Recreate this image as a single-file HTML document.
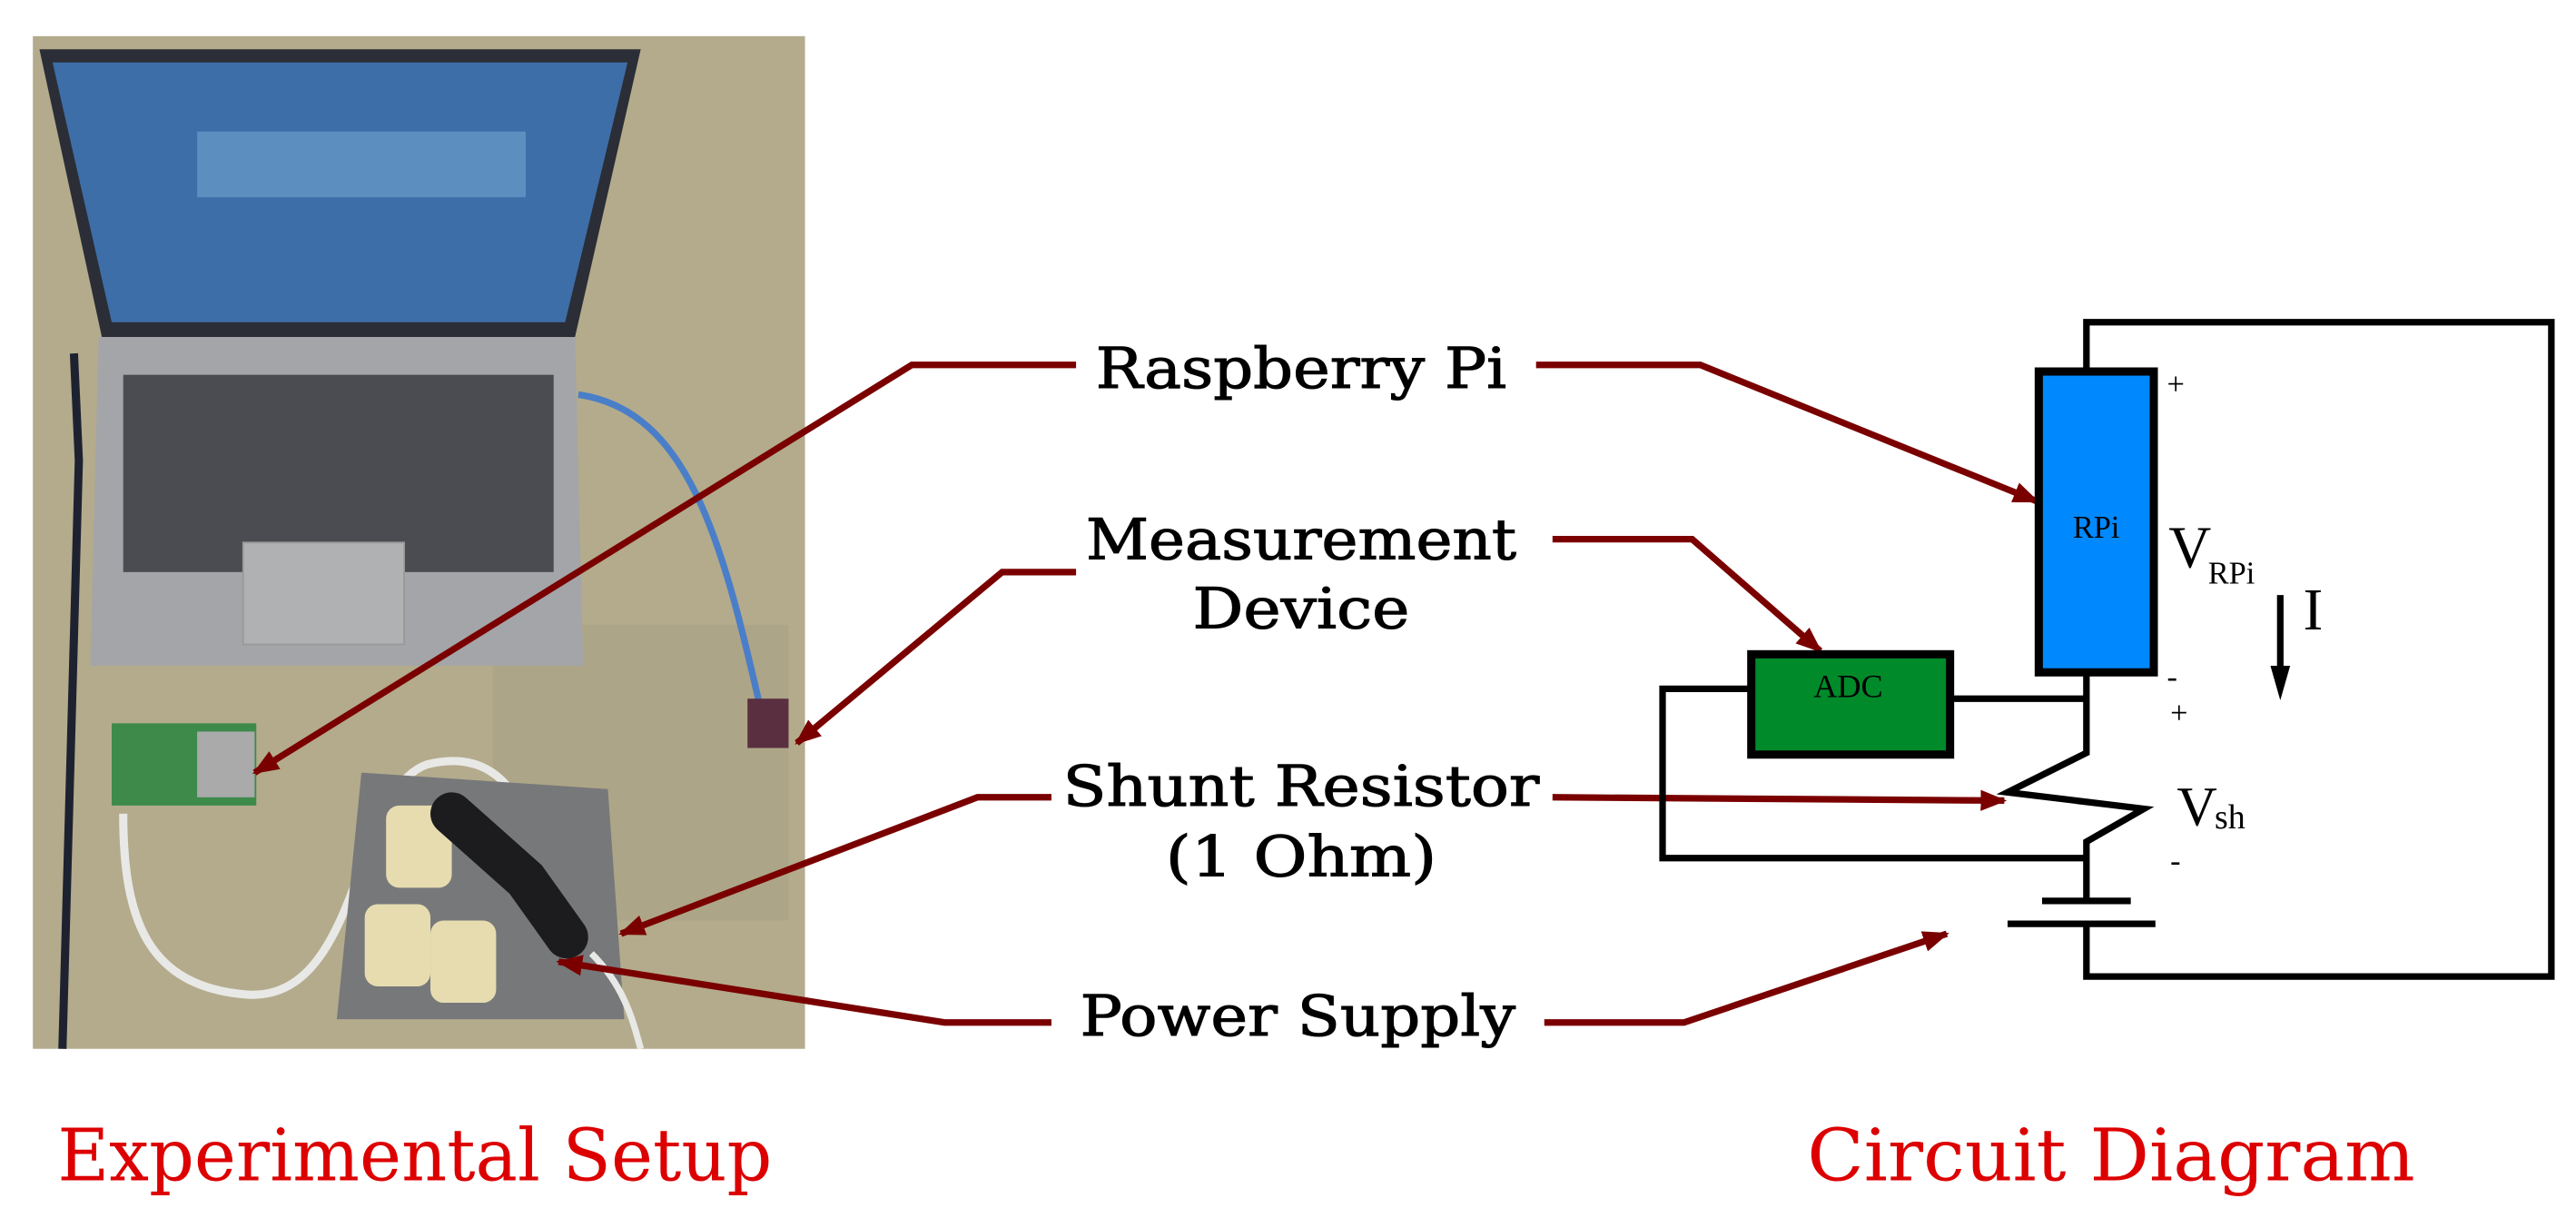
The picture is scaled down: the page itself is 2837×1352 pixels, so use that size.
<!DOCTYPE html>
<html><head><style>html,body{margin:0;padding:0;background:#fff}svg{display:block}</style></head>
<body>
<svg width="2837" height="1352" viewBox="0 0 1568 747" preserveAspectRatio="none" xmlns="http://www.w3.org/2000/svg">
<defs>
<marker id="a" viewBox="0 0 10 10" refX="9" refY="5" markerWidth="4" markerHeight="4" orient="auto" markerUnits="strokeWidth"><path d="M0,1 L10,5 L0,9 z" fill="#7a0000"/></marker>
</defs>
<rect width="1568" height="747" fill="#fff"/>
<!-- photo -->
<rect x="20" y="22" width="470" height="616" fill="#b3ab8c"/>
<rect x="300" y="380" width="180" height="180" fill="#a9a283" opacity="0.6"/>
<path d="M45,215 L48,280 L38,638" stroke="#1e2230" stroke-width="5" fill="none"/>
<polygon points="24,30 390,30 350,205 62,205" fill="#2b2e36"/>
<polygon points="32,38 382,38 344,196 68,196" fill="#3d6ea8"/>
<rect x="120" y="80" width="200" height="40" fill="#5c8ec0"/>
<polygon points="60,205 350,205 355,405 55,405" fill="#a4a5a8"/>
<rect x="75" y="228" width="262" height="120" fill="#4a4c52"/>
<rect x="148" y="330" width="98" height="62" fill="#b0b1b3" stroke="#999" />
<path d="M352,240 C420,250 440,330 465,440" stroke="#4a7ec8" stroke-width="4" fill="none"/>
<rect x="455" y="425" width="25" height="30" fill="#5a3040"/>
<rect x="68" y="440" width="88" height="50" fill="#3d8a4a"/>
<rect x="120" y="445" width="35" height="40" fill="#aaa"/>
<path d="M75,495 C75,560 90,600 150,605 C220,610 215,480 260,465 C320,450 330,520 330,560" stroke="#e8e8e6" stroke-width="5" fill="none"/>
<polygon points="220,470 370,480 380,620 205,620" fill="#77787a"/>
<rect x="235" y="490" width="40" height="50" rx="8" fill="#e6dcb0"/>
<rect x="222" y="550" width="40" height="50" rx="8" fill="#e6dcb0"/>
<rect x="262" y="560" width="40" height="50" rx="8" fill="#e6dcb0"/>
<path d="M275,495 L320,535 L345,570" stroke="#1c1c1e" stroke-width="26" fill="none" stroke-linecap="round"/>
<path d="M360,580 C380,600 385,620 390,638" stroke="#e8e8e6" stroke-width="4" fill="none"/>
<!-- connectors -->
<g stroke="#7a0000" stroke-width="4" fill="none">
<polyline points="655,222 555,222 155,470" marker-end="url(#a)"/>
<polyline points="935,222 1035,222 1240,305" marker-end="url(#a)"/>
<polyline points="655,348 610,348 485,452" marker-end="url(#a)"/>
<polyline points="945,328 1030,328 1108,396" marker-end="url(#a)"/>
<polyline points="640,485 595,485 378,568" marker-end="url(#a)"/>
<polyline points="945,485 1220,487" marker-end="url(#a)"/>
<polyline points="640,622 575,622 340,585" marker-end="url(#a)"/>
<polyline points="940,622 1025,622 1185,568" marker-end="url(#a)"/>
</g>
<!-- labels -->
<g font-family="DejaVu Serif, serif" font-size="34" fill="#000" text-anchor="middle" stroke="#000" stroke-width="0.6">
<text x="792" y="236" textLength="250" lengthAdjust="spacingAndGlyphs">Raspberry Pi</text>
<text x="792" y="340" textLength="262" lengthAdjust="spacingAndGlyphs">Measurement</text>
<text x="792" y="382" textLength="132" lengthAdjust="spacingAndGlyphs">Device</text>
<text x="792" y="490" textLength="290" lengthAdjust="spacingAndGlyphs">Shunt Resistor</text>
<text x="792" y="533" textLength="165" lengthAdjust="spacingAndGlyphs">(1 Ohm)</text>
<text x="790" y="630" textLength="265" lengthAdjust="spacingAndGlyphs">Power Supply</text>
</g>
<g font-family="DejaVu Serif, serif" font-size="44" fill="#dd0000">
<text x="35" y="718" textLength="435" lengthAdjust="spacingAndGlyphs">Experimental Setup</text>
<text x="1100" y="718" textLength="370" lengthAdjust="spacingAndGlyphs">Circuit Diagram</text>
</g>
<!-- circuit -->
<g stroke="#000" stroke-width="4" fill="none">
<polyline points="1270,225 1270,196 1553,196 1553,594 1270,594 1270,562"/>
<polyline points="1270,410 1270,458 1222,482 1305,492 1270,512 1270,548"/>
<polyline points="1188,425 1270,425"/>
<polyline points="1064,419 1012,419 1012,522 1270,522"/>
<line x1="1243" y1="548" x2="1297" y2="548"/>
<line x1="1222" y1="562" x2="1312" y2="562"/>
<line x1="1388" y1="362" x2="1388" y2="412"/>
</g>
<polygon points="1382,405 1394,405 1388,426" fill="#000"/>
<rect x="1241" y="226" width="70" height="183" fill="#0088ff" stroke="#000" stroke-width="5"/>
<rect x="1066" y="398" width="121" height="61" fill="#008a2a" stroke="#000" stroke-width="5"/>
<g font-family="Liberation Serif, serif" fill="#000">
<text x="1276" y="327" font-size="19" text-anchor="middle">RPi</text>
<text x="1125" y="424" font-size="20" text-anchor="middle">ADC</text>
<text x="1319" y="240" font-size="19">+</text>
<text x="1319" y="418" font-size="19">-</text>
<text x="1321" y="440" font-size="19">+</text>
<text x="1321" y="530" font-size="19">-</text>
<text x="1320" y="345" font-size="36">V</text>
<text x="1344" y="355" font-size="19">RPi</text>
<text x="1402" y="383" font-size="36">I</text>
<text x="1325" y="502" font-size="34">V</text>
<text x="1348" y="504" font-size="21">sh</text>
</g>
</svg>
</body></html>
